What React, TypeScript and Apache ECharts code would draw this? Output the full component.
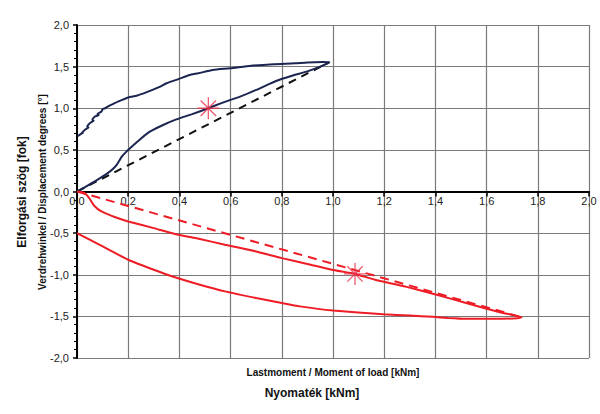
import React, { useEffect, useRef } from "react";
import * as echarts from "echarts";

const xTicks = [0, 0.2, 0.4, 0.6, 0.8, 1.0, 1.2, 1.4, 1.6, 1.8, 2.0];
const yTicks = [-2, -1.5, -1, -0.5, 0, 0.5, 1, 1.5, 2];

// Blue loop: loading branch then unloading branch
const blueX = [0, 0.03, 0.057, 0.09, 0.12, 0.14, 0.155, 0.165, 0.175, 0.19, 0.207, 0.24, 0.28, 0.33, 0.383, 0.45, 0.513, 0.58, 0.637, 0.7, 0.78, 0.84, 0.897, 0.95, 0.986,
  0.96, 0.9, 0.85, 0.767, 0.68, 0.598, 0.53, 0.474, 0.44, 0.396, 0.35, 0.318, 0.27, 0.233, 0.2, 0.16, 0.14, 0.12, 0.11, 0.1, 0.096, 0.08, 0.085, 0.07, 0.06, 0.065, 0.05, 0.04, 0.045, 0.03, 0.018, 0.025, 0.01, 0.003];
const blueY = [0, 0.05, 0.1, 0.16, 0.22, 0.27, 0.32, 0.37, 0.42, 0.47, 0.52, 0.61, 0.71, 0.79, 0.86, 0.93, 1.0, 1.08, 1.14, 1.22, 1.33, 1.39, 1.44, 1.5, 1.553,
  1.555, 1.55, 1.54, 1.53, 1.51, 1.48, 1.46, 1.42, 1.4, 1.35, 1.3, 1.25, 1.19, 1.15, 1.13, 1.08, 1.05, 1.02, 1.0, 0.99, 0.96, 0.93, 0.92, 0.9, 0.86, 0.85, 0.82, 0.78, 0.77, 0.74, 0.7, 0.71, 0.68, 0.667];

// Red loop: loading branch then unloading branch
const redX = [0, 0.02, 0.03, 0.04, 0.05, 0.06, 0.07, 0.09, 0.11, 0.15, 0.2, 0.3, 0.383, 0.48, 0.578, 0.7, 0.8, 0.9, 0.995, 1.086, 1.164, 1.28, 1.405, 1.52, 1.652, 1.737,
  1.704, 1.62, 1.52, 1.45, 1.39, 1.3, 1.197, 1.0, 0.87, 0.8, 0.7, 0.578, 0.48, 0.383, 0.3, 0.2, 0.1, 0];
const redY = [0, -0.01, -0.02, -0.05, -0.09, -0.14, -0.18, -0.23, -0.26, -0.31, -0.36, -0.44, -0.51, -0.57, -0.64, -0.72, -0.8, -0.87, -0.94, -0.99, -1.06, -1.14, -1.24, -1.34, -1.45, -1.51,
  -1.525, -1.53, -1.53, -1.52, -1.505, -1.49, -1.475, -1.43, -1.38, -1.34, -1.28, -1.2, -1.12, -1.03, -0.94, -0.82, -0.66, -0.5];

// Secant (dashed) lines
const blackDashX = [0, 0.986];
const blackDashY = [0, 1.553];
const redDashX = [0, 1.737];
const redDashY = [0, -1.51];

// Star markers
const starX = [0.513, 1.086];
const starY = [1.0, -0.99];

const pairs = (xs: number[], ys: number[]) => xs.map((x, i) => [x, ys[i]]);
const fmt = (v: number) => v.toFixed(1).replace(".", ",");

const FONT = "'Liberation Sans', Arial, sans-serif";
const NAVY = "#1c2550";
const RED = "#ee1c25";
const STAR = "#e8304a";

const GRID_TOP = 25;
const GRID_H = 333;

export default function App() {
  const ref = useRef<HTMLDivElement>(null);
  useEffect(() => {
    if (!ref.current) return;
    const chart = echarts.init(ref.current, undefined, { renderer: "svg" });
    const yMin = yTicks[0];
    const yMax = yTicks[yTicks.length - 1];
    const zeroOffset = -GRID_H * (0 - yMin) / (yMax - yMin);
    chart.setOption({
      animation: false,
      backgroundColor: "#ffffff",
      grid: { left: 77, top: GRID_TOP, width: 512, height: GRID_H, containLabel: false },
      xAxis: [
        {
          type: "value",
          min: xTicks[0],
          max: xTicks[xTicks.length - 1],
          interval: 0.2,
          axisLine: { show: false },
          axisTick: { show: false },
          axisLabel: { show: false },
          splitLine: { show: true, lineStyle: { color: "#7a7a7a", width: 1.2 } },
        },
        {
          type: "value",
          position: "bottom",
          offset: zeroOffset,
          min: xTicks[0],
          max: xTicks[xTicks.length - 1],
          interval: 0.2,
          axisLine: { show: true, onZero: false, lineStyle: { color: "#000", width: 2 } },
          axisTick: { show: true, length: 5, lineStyle: { color: "#000", width: 1.5 } },
          axisLabel: { formatter: (v: number) => fmt(v), color: "#222", fontSize: 11, fontFamily: FONT, margin: 4 },
          splitLine: { show: false },
        },
      ],
      yAxis: {
        type: "value",
        min: yMin,
        max: yMax,
        interval: 0.5,
        axisLine: { show: true, onZero: false, lineStyle: { color: "#000", width: 2 } },
        axisTick: { show: true, length: 4, lineStyle: { color: "#000", width: 1.5 } },
        minorTick: { show: true, splitNumber: 5, length: 3, lineStyle: { color: "#000", width: 1 } },
        axisLabel: { formatter: (v: number) => fmt(v), color: "#222", fontSize: 11, fontFamily: FONT, margin: 8 },
        splitLine: { show: true, lineStyle: { color: "#7a7a7a", width: 1.2 } },
      },
      graphic: [
        {
          type: "text",
          x: 22,
          y: 192,
          rotation: Math.PI / 2,
          style: { text: "Elforgási szög [fok]", font: `bold 12px ${FONT}`, fill: "#111", align: "center", verticalAlign: "middle" },
        },
        {
          type: "text",
          x: 42,
          y: 192,
          rotation: Math.PI / 2,
          style: { text: "Verdrehwinkel / Displacement degrees [°]", font: `bold 10px ${FONT}`, fill: "#111", align: "center", verticalAlign: "middle" },
        },
        {
          type: "text",
          x: 333,
          y: 372,
          style: { text: "Lastmoment / Moment of load [kNm]", font: `bold 10px ${FONT}`, fill: "#111", align: "center", verticalAlign: "middle" },
        },
        {
          type: "text",
          x: 312,
          y: 393,
          style: { text: "Nyomaték [kNm]", font: `bold 12px ${FONT}`, fill: "#111", align: "center", verticalAlign: "middle" },
        },
      ],
      series: [
        {
          type: "line",
          data: pairs(blackDashX, blackDashY),
          showSymbol: false,
          lineStyle: { color: "#111", width: 2, type: [8, 6] },
          z: 3,
        },
        {
          type: "line",
          data: pairs(redDashX, redDashY),
          showSymbol: false,
          lineStyle: { color: RED, width: 2, type: [9, 6] },
          z: 3,
        },
        {
          type: "line",
          data: pairs(blueX, blueY),
          showSymbol: false,
          smooth: 0.2,
          lineStyle: { color: NAVY, width: 2 },
          z: 4,
        },
        {
          type: "line",
          data: pairs(redX, redY),
          showSymbol: false,
          smooth: 0.15,
          lineStyle: { color: RED, width: 2 },
          z: 4,
        },
        {
          type: "scatter",
          data: pairs(starX, starY),
          symbol: "path://M0,-10L0,10M-10,0L10,0M-7,-7L7,7M-7,7L7,-7",
          symbolSize: 22,
          itemStyle: { color: "none", borderColor: STAR, borderWidth: 1.3 },
          z: 5,
        },
      ],
    });
    return () => chart.dispose();
  }, []);
  return <div ref={ref} style={{ width: 600, height: 414, position: "absolute", left: 0, top: 0 }} />;
}
